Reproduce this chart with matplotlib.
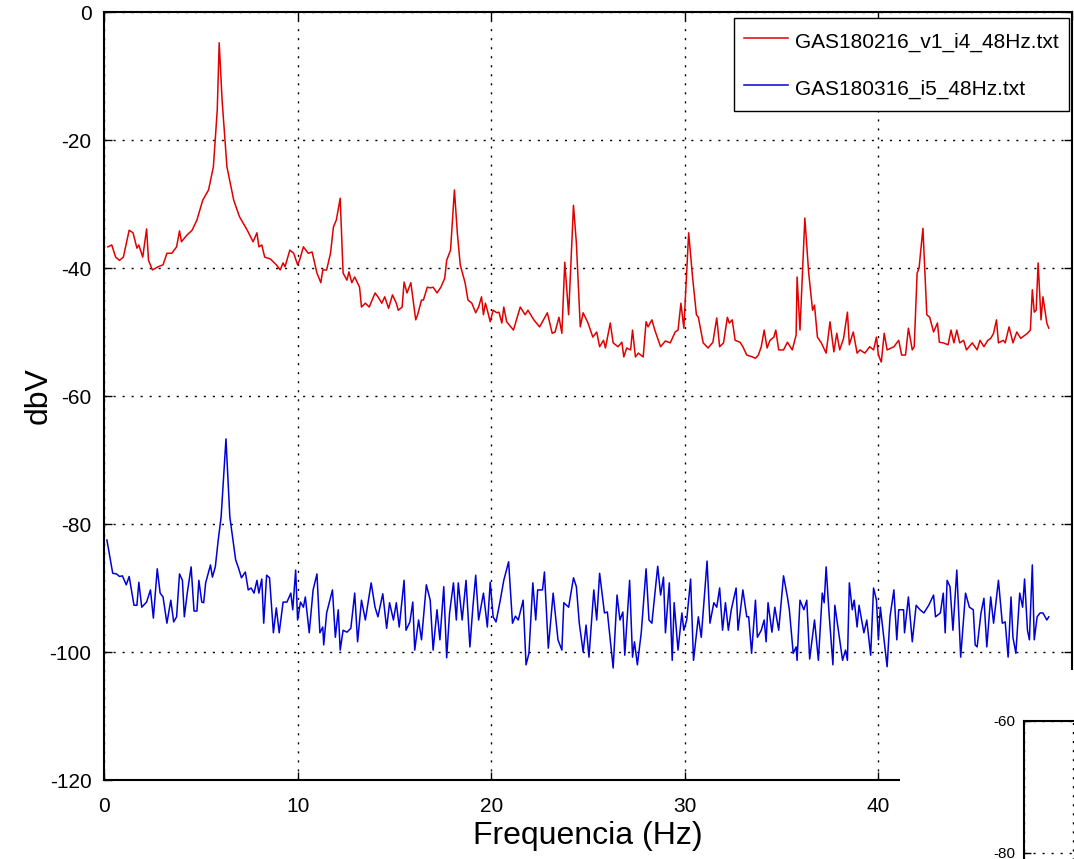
import matplotlib
matplotlib.use("Agg")
import matplotlib.pyplot as plt

plt.rcParams['font.family'] = ['Liberation Sans', 'DejaVu Sans']
plt.rcParams['axes.unicode_minus'] = False

# Spectrum of GAS180216_v1_i4_48Hz.txt (red trace)
freqRed = [0.2, 0.4, 0.6, 0.8, 1.0, 1.3, 1.5, 1.7, 1.8, 2.0, 2.2, 2.3, 2.5, 2.8, 3.05, 3.25, 3.5, 3.75, 3.9, 4.0,
           4.3, 4.55, 4.8, 5.1, 5.4, 5.65, 5.85, 5.95, 6.1, 6.35, 6.7, 7.0, 7.4, 7.7, 7.9, 8.0, 8.15, 8.3, 8.6, 8.9,
           9.1, 9.25, 9.35, 9.6, 9.8, 10.0, 10.1, 10.3, 10.55, 10.75, 11.0, 11.2, 11.3, 11.5, 11.7, 11.85, 12.0, 12.2,
           12.35, 12.55, 12.65, 12.8, 12.95, 13.2, 13.3, 13.5, 13.7, 13.85, 14.0, 14.15, 14.35, 14.5, 14.7, 14.9,
           15.1, 15.2, 15.4, 15.5, 15.65, 15.85, 16.1, 16.2, 16.4, 16.5, 16.7, 16.85, 17.0, 17.2, 17.4, 17.6, 17.7,
           17.9, 18.1, 18.25, 18.4, 18.65, 18.8, 19.0, 19.2, 19.35, 19.5, 19.6, 19.7, 19.8, 19.95, 20.1, 20.3, 20.4,
           20.55, 20.65, 20.8, 21.15, 21.5, 21.75, 21.9, 22.2, 22.5, 22.9, 23.15, 23.3, 23.5, 23.65, 23.8, 24.0,
           24.25, 24.4, 24.6, 24.75, 25.0, 25.25, 25.45, 25.6, 25.8, 25.9, 26.15, 26.3, 26.55, 26.75, 26.85, 27.0,
           27.2, 27.3, 27.45, 27.6, 27.85, 28.0, 28.1, 28.3, 28.45, 28.75, 29.0, 29.25, 29.5, 29.65, 29.8, 29.95,
           30.2, 30.4, 30.6, 30.7, 30.95, 31.2, 31.45, 31.65, 31.8, 32.0, 32.2, 32.3, 32.45, 32.6, 32.85, 33.0,
           33.2, 33.5, 33.65, 33.8, 33.95, 34.1, 34.25, 34.4, 34.6, 34.7, 34.85, 35.1, 35.3, 35.55, 35.75, 35.8,
           35.95, 36.2, 36.4, 36.6, 36.7, 36.85, 37.05, 37.3, 37.5, 37.7, 37.85, 38.0, 38.2, 38.4, 38.5, 38.7,
           38.9, 39.05, 39.3, 39.55, 39.75, 39.9, 40.0, 40.15, 40.3, 40.45, 40.8, 41.05, 41.2, 41.4, 41.55, 41.75,
           41.85, 42.0, 42.1, 42.3, 42.5, 42.65, 42.85, 43.05, 43.15, 43.35, 43.6, 43.75, 43.9, 44.05, 44.2, 44.4,
           44.55, 44.85, 45.1, 45.25, 45.45, 45.65, 45.8, 45.95, 46.1, 46.2, 46.45, 46.55, 46.75, 46.95, 47.15,
           47.35, 47.7, 47.85, 47.95, 48.05, 48.15, 48.25, 48.4, 48.5, 48.7, 48.8]
dbRed = [-36.7, -36.4, -38.3, -38.8, -38.3, -34.1, -34.5, -36.9, -36.4, -38.3, -33.9, -38.8, -40.3, -39.8, -39.5,
         -37.7, -37.7, -36.7, -34.2, -35.9, -34.8, -34.1, -32.5, -29.4, -27.8, -24.2, -15.3, -4.8, -13.8, -24.2,
         -29.4, -32.0, -34.1, -35.9, -34.5, -36.7, -36.4, -38.3, -38.6, -39.5, -40.3, -39.2, -39.8, -37.2, -37.7,
         -39.5, -38.8, -36.7, -37.7, -37.5, -40.8, -42.3, -40.3, -40.3, -37.7, -33.6, -32.5, -29.1, -40.8, -41.9,
         -40.6, -42.3, -41.4, -43.0, -46.1, -45.5, -46.1, -45.0, -43.9, -44.5, -45.5, -44.5, -46.3, -44.2, -45.5,
         -46.6, -46.1, -42.2, -43.9, -42.3, -48.1, -47.3, -45.0, -45.0, -43.0, -43.1, -43.0, -43.9, -43.0, -41.6,
         -38.8, -37.2, -27.8, -34.5, -39.5, -42.3, -45.0, -45.5, -47.0, -46.1, -44.5, -47.3, -45.5, -46.6, -48.4,
         -46.6, -47.0, -46.9, -48.6, -46.1, -48.4, -49.7, -46.1, -47.3, -46.6, -48.1, -49.2, -47.0, -50.2, -50.0,
         -47.7, -50.2, -39.1, -47.3, -30.2, -36.1, -49.2, -47.0, -48.6, -50.8, -50.0, -52.3, -51.3, -52.5, -48.6,
         -51.7, -52.3, -51.6, -53.9, -52.5, -52.8, -49.7, -53.9, -53.3, -53.9, -48.4, -49.2, -48.1, -49.7, -52.3,
         -51.4, -51.7, -50.0, -49.7, -45.5, -49.4, -34.5, -41.4, -47.3, -47.7, -51.7, -52.5, -51.6, -47.8, -52.3,
         -51.7, -47.7, -48.6, -48.1, -51.3, -51.6, -52.3, -53.6, -53.9, -54.1, -53.6, -52.3, -49.7, -52.5, -51.3,
         -50.8, -49.7, -52.8, -52.8, -51.6, -52.8, -50.5, -41.4, -49.7, -32.2, -40.8, -46.6, -45.8, -50.8, -51.7,
         -53.3, -48.4, -53.1, -50.2, -52.8, -51.0, -46.9, -52.0, -50.0, -53.3, -52.8, -53.3, -52.3, -52.8, -50.8,
         -53.6, -54.7, -50.2, -52.8, -52.3, -51.3, -53.6, -53.6, -49.4, -52.8, -52.3, -40.8, -40.0, -33.8, -47.3,
         -47.7, -50.0, -48.6, -51.6, -51.7, -52.0, -49.7, -51.7, -49.7, -51.7, -51.3, -52.8, -51.7, -52.8, -51.3,
         -52.3, -51.3, -51.0, -50.2, -48.1, -51.7, -51.3, -51.7, -49.2, -51.7, -50.0, -51.0, -50.2, -49.7, -43.4,
         -46.9, -46.6, -39.2, -48.1, -44.5, -48.6, -49.4]

# Spectrum of GAS180316_i5_48Hz.txt (blue trace)
freqBlue = [0.15, 0.45, 0.65, 0.8, 0.95, 1.15, 1.3, 1.55, 1.7, 1.8, 1.95, 2.2, 2.4, 2.55, 2.75, 2.9, 3.05, 3.25,
            3.45, 3.6, 3.75, 3.9, 4.05, 4.15, 4.3, 4.5, 4.65, 4.8, 4.9, 5.05, 5.15, 5.25, 5.5, 5.6, 5.75, 5.9, 6.05,
            6.3, 6.5, 6.8, 6.95, 7.1, 7.3, 7.45, 7.6, 7.75, 7.9, 8.0, 8.15, 8.25, 8.4, 8.55, 8.75, 8.9, 9.05, 9.25,
            9.45, 9.65, 9.75, 9.9, 10.0, 10.15, 10.3, 10.4, 10.6, 10.8, 11.0, 11.15, 11.3, 11.35, 11.5, 11.8, 11.95,
            12.1, 12.2, 12.35, 12.55, 12.75, 12.95, 13.1, 13.3, 13.5, 13.8, 14.0, 14.15, 14.4, 14.6, 14.75, 14.95,
            15.1, 15.25, 15.5, 15.6, 15.8, 15.95, 16.05, 16.25, 16.4, 16.65, 16.85, 17.0, 17.2, 17.35, 17.55, 17.7,
            17.85, 18.05, 18.2, 18.3, 18.5, 18.7, 18.9, 19.05, 19.2, 19.35, 19.6, 19.8, 19.95, 20.1, 20.25, 20.45,
            20.65, 20.9, 21.1, 21.25, 21.4, 21.65, 21.8, 21.95, 22.15, 22.3, 22.4, 22.65, 22.75, 22.95, 23.2, 23.45,
            23.65, 23.75, 24.0, 24.25, 24.4, 24.55, 24.75, 24.9, 25.05, 25.3, 25.45, 25.6, 25.85, 26.0, 26.3, 26.5,
            26.65, 26.8, 26.9, 27.15, 27.3, 27.4, 27.55, 27.75, 28.0, 28.15, 28.3, 28.6, 28.75, 28.9, 29.0, 29.2,
            29.35, 29.45, 29.65, 29.85, 29.95, 30.1, 30.3, 30.45, 30.7, 30.85, 31.15, 31.3, 31.5, 31.65, 31.8,
            31.95, 32.1, 32.25, 32.4, 32.65, 32.75, 33.0, 33.2, 33.3, 33.45, 33.65, 33.75, 33.95, 34.1, 34.2, 34.3,
            34.5, 34.65, 34.85, 35.1, 35.3, 35.4, 35.6, 35.75, 35.8, 35.95, 36.15, 36.3, 36.45, 36.7, 36.9, 37.1,
            37.2, 37.3, 37.45, 37.65, 37.75, 37.95, 38.15, 38.3, 38.4, 38.5, 38.65, 38.75, 38.9, 39.0, 39.25, 39.4,
            39.6, 39.75, 39.9, 40.0, 40.1, 40.25, 40.45, 40.6, 40.8, 40.95, 41.05, 41.3, 41.35, 41.55, 41.75,
            41.95, 42.15, 42.35, 42.6, 42.85, 42.95, 43.2, 43.35, 43.45, 43.55, 43.7, 43.85, 44.05, 44.25, 44.5,
            44.7, 44.9, 45.0, 45.1, 45.3, 45.45, 45.6, 45.8, 45.95, 46.2, 46.4, 46.55, 46.7, 46.85, 46.95, 47.1,
            47.3, 47.45, 47.55, 47.7, 47.8, 47.95, 48.05, 48.2, 48.35, 48.5, 48.7, 48.8]
dbBlue = [-82.5, -87.7, -87.8, -88.2, -88.1, -89.5, -88.2, -92.7, -92.7, -89.1, -93.0, -92.2, -90.3, -94.7, -87.0,
          -90.8, -91.4, -95.5, -91.9, -95.3, -94.5, -87.8, -88.8, -94.5, -90.8, -86.7, -93.6, -93.6, -88.8, -92.2,
          -92.3, -89.2, -86.4, -88.3, -86.7, -82.5, -78.9, -66.7, -78.9, -85.6, -86.9, -88.4, -87.5, -90.3, -90.0,
          -90.8, -88.8, -90.8, -88.6, -95.5, -88.0, -88.4, -97.0, -93.1, -97.0, -92.2, -92.2, -90.8, -93.4, -87.2,
          -95.0, -92.2, -93.0, -91.4, -97.0, -90.3, -87.8, -97.0, -96.1, -98.9, -93.9, -90.3, -97.7, -93.4, -99.7,
          -96.6, -96.9, -96.3, -90.8, -98.4, -91.9, -95.0, -89.2, -93.0, -94.5, -90.9, -96.3, -92.3, -95.0, -92.3,
          -96.1, -88.8, -96.6, -95.3, -92.2, -99.7, -95.0, -98.1, -89.5, -91.9, -99.7, -93.4, -98.1, -89.8, -100.9,
          -93.9, -89.2, -95.0, -89.2, -95.0, -88.8, -99.2, -93.1, -88.0, -95.0, -90.8, -96.1, -89.1, -94.5, -95.3,
          -92.2, -88.8, -85.9, -95.5, -94.4, -95.0, -91.9, -102.0, -100.2, -89.2, -95.0, -90.3, -90.3, -87.5, -99.4,
          -90.8, -98.1, -99.7, -92.3, -93.0, -88.4, -89.8, -95.5, -100.0, -95.8, -100.8, -90.3, -95.0, -87.7, -93.9,
          -93.75, -102.5, -91.1, -95.0, -93.75, -100.5, -88.8, -100.8, -98.4, -102.0, -97.0, -87.0, -95.0, -95.5,
          -86.6, -91.1, -88.3, -97.0, -89.2, -101.3, -92.3, -99.7, -93.9, -96.6, -95.0, -88.6, -101.3, -94.5,
          -97.7, -85.8, -95.5, -92.3, -93.0, -90.0, -96.6, -92.3, -96.6, -93.4, -90.0, -96.6, -90.3, -94.5, -94.5,
          -100.2, -91.9, -97.7, -96.6, -95.0, -98.4, -92.3, -96.9, -93.0, -96.6, -88.1, -91.4, -93.4, -100.2,
          -99.2, -101.3, -91.9, -93.4, -91.9, -101.1, -95.0, -101.3, -90.8, -92.3, -86.7, -93.9, -102.0, -92.7,
          -97.0, -101.3, -99.7, -101.3, -89.2, -93.4, -91.9, -96.1, -92.7, -97.0, -95.0, -100.5, -90.0, -91.9,
          -98.1, -93.0, -97.0, -102.3, -94.5, -90.3, -98.1, -93.4, -93.4, -97.0, -91.4, -98.4, -92.7, -93.4, -93.9,
          -92.7, -91.1, -94.5, -93.9, -90.8, -97.0, -88.8, -89.8, -96.6, -87.2, -100.8, -90.8, -93.0, -93.4, -98.9,
          -99.2, -93.9, -91.6, -99.2, -91.4, -95.5, -88.8, -95.5, -95.3, -100.8, -91.4, -97.7, -100.2, -90.8,
          -93.0, -88.6, -96.6, -98.1, -86.4, -98.1, -94.5, -93.9, -93.9, -95.0, -94.5]

legendNames = ["GAS180216_v1_i4_48Hz.txt", "GAS180316_i5_48Hz.txt"]
xTicks = [0, 10, 20, 30, 40, 50]
xTickLabels = ["0", "10", "20", "30", "40", ""]
yTicks = [0, -20, -40, -60, -80, -100, -120]
insetTicks = [-60, -80, -100]

W, H = 1074, 859
fig = plt.figure(figsize=(W / 100, H / 100), dpi=100)
ax = fig.add_axes([104 / W, 1 - 780 / H, 968 / W, 768 / H])

ax.plot(freqRed, dbRed, color="#e00000", lw=1.1, label=legendNames[0])
ax.plot(freqBlue, dbBlue, color="#0000d8", lw=1.1, label=legendNames[1])

ax.set_xlim(0, 50)
ax.set_ylim(-120, 0)
ax.set_xticks(xTicks)
ax.set_xticklabels(xTickLabels)
ax.set_yticks(yTicks)
ax.grid(True, color="black", linestyle=(0, (1.5, 5)), linewidth=1.0)
ax.tick_params(direction="in", length=6, width=1, top=True, right=True, labelsize=15)
ax.tick_params(axis="x", pad=12)
ax.tick_params(axis="y", pad=9)
for s in ax.spines.values():
    s.set_linewidth(1.5)

ax.set_xlabel("Frequencia (Hz)", fontsize=23)
ax.xaxis.set_label_coords(0.5, -0.054)
ax.set_ylabel("dbV", fontsize=23)
ax.yaxis.set_label_coords(-0.052, 0.5)

leg = ax.legend(loc="upper right", bbox_to_anchor=(1069 / W, 1 - 18 / H), bbox_transform=fig.transFigure,
                borderaxespad=0, fontsize=15, handlelength=2.1, handletextpad=0.35, borderpad=0.48,
                handleheight=1.6, labelspacing=0.95, fancybox=False, framealpha=1, edgecolor="black")
leg.get_frame().set_linewidth(1.0)

# blank panel sitting over the lower right corner
cover = fig.add_axes([900 / W, 0, (W - 900) / W, (H - 670) / H], zorder=5)
cover.set_xticks([])
cover.set_yticks([])
for s in cover.spines.values():
    s.set_visible(False)

# second plot peeking in from the corner
inset = fig.add_axes([1024 / W, 1 - 985 / H, 245 / W, 264 / H], zorder=6)
inset.set_ylim(-100, -60)
inset.set_xlim(0, 50)
inset.set_yticks(insetTicks)
inset.set_xticks(xTicks)
inset.grid(True, color="black", linestyle=(0, (1.5, 5)), linewidth=1.0)
inset.tick_params(direction="in", length=5, width=1, labelsize=11, pad=6, labelbottom=False)
for s in inset.spines.values():
    s.set_linewidth(1.5)

fig.savefig("out.png", dpi=100)
